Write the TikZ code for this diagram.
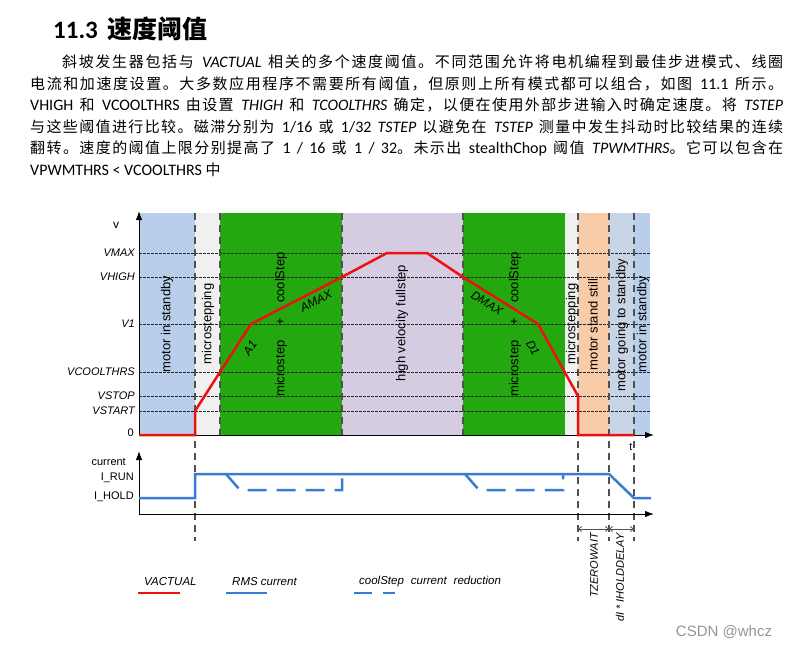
\documentclass[tikz,border=0pt]{standalone}
\usepackage{fontspec}
\setmainfont{Carlito}
\newfontfamily\cjk{Noto Sans CJK SC}
\newfontfamily\arial{Liberation Sans}
\usetikzlibrary{arrows.meta}
\definecolor{sbblue}{RGB}{184,206,234}
\definecolor{mgray}{RGB}{240,240,240}
\definecolor{cgreen}{RGB}{36,168,16}
\definecolor{lav}{RGB}{214,204,226}
\definecolor{orng}{RGB}{248,204,168}
\definecolor{bgray}{RGB}{200,213,230}
\definecolor{vred}{RGB}{238,16,16}
\definecolor{rmsblue}{RGB}{58,124,212}
\definecolor{dashgray}{RGB}{80,80,80}
\definecolor{wmgray}{RGB}{150,150,150}
\makeatletter
\def\C#1{{\cjk\fontsize{15}{18}\selectfont\C@loop#1\C@stop}}
\def\C@stop{\C@stop}
\def\C@loop#1{\ifx#1\C@stop\else#1\hskip0pt plus 1pt\relax\expandafter\C@loop\fi}
\makeatother
\begin{document}
\begin{tikzpicture}[x=1pt,y=-1pt,
  para/.style={anchor=base west,inner sep=0pt,font=\fontsize{16}{18}\selectfont},
  lbl/.style={font=\arial\fontsize{11}{13}\selectfont\itshape,anchor=east,inner sep=0pt},
  ulbl/.style={font=\arial\fontsize{11}{13}\selectfont,inner sep=0pt},
  bandtext/.style={font=\arial\fontsize{13}{15}\selectfont,rotate=90,inner sep=0pt},
  slopetext/.style={font=\arial\fontsize{12}{14}\selectfont\itshape,inner sep=0pt},
  legtext/.style={font=\arial\fontsize{11.5}{13}\selectfont\itshape,anchor=west,inner sep=0pt},
  vdash/.style={draw=dashgray,line width=1.2pt,dash pattern=on 7pt off 5pt},
  hdot/.style={draw=black!85,line width=0.7pt,dash pattern=on 2.5pt off 1.5pt},
  axis/.style={draw=black,line width=1pt,-{Latex[length=9pt,width=6.5pt]}},
  vel/.style={draw=vred,line width=2.5pt},
  rms/.style={draw=rmsblue,line width=2.5pt},
  cool/.style={draw=rmsblue,line width=2.5pt,dash pattern=on 19pt off 10pt},
  dim/.style={draw=dashgray,line width=0.8pt,{Straight Barb[length=3pt,width=5pt]}-{Straight Barb[length=3pt,width=5pt]}}
]
\path[use as bounding box] (0,0) rectangle (799,649);
\fill[white] (0,0) rectangle (799,649);

% ---------- heading and paragraph ----------
\node[anchor=base west,inner sep=0pt,font=\fontsize{25}{28}\selectfont\bfseries] (title) at (53,38)
  {11.3\hspace{10pt}{\cjk 速度阈值}};
\node[para] (l1) at (62,67.5) {\hbox to 721pt{\C{斜坡发生器包括与} \textit{VACTUAL} \C{相关的多个速度阈值。不同范围允许将电机编程到最佳步进模式、线圈}\unskip}};
\node[para] (l2) at (30,89.1) {\hbox to 753pt{\C{电流和加速度设置。大多数应用程序不需要所有阈值，但原则上所有模式都可以组合，如图} 11.1 \C{所示。}\unskip}};
\node[para] (l3) at (30,110.7) {\hbox to 753pt{VHIGH \C{和} VCOOLTHRS \C{由设置} \textit{THIGH} \C{和} \textit{TCOOLTHRS} \C{确定，以便在使用外部步进输入时确定速度。将} \textit{TSTEP}}};
\node[para] (l4) at (30,132.3) {\hbox to 753pt{\C{与这些阈值进行比较。磁滞分别为} 1/16 \C{或} 1/32 \textit{TSTEP} \C{以避免在} \textit{TSTEP} \C{测量中发生抖动时比较结果的连续}\unskip}};
\node[para] (l5) at (30,153.9) {\hbox to 753pt{\C{翻转。速度的阈值上限分别提高了} 1 / 16 \C{或} 1 / 32\C{。未示出} stealthChop \C{阈值} \textit{TPWMTHRS}\C{。它可以包含在}\unskip}};
\node[para] (l6) at (30,175.5) {VPWMTHRS < VCOOLTHRS {\cjk\fontsize{15}{18}\selectfont 中}};

% ---------- bands ----------
\fill[sbblue] (139,213) rectangle (195,435);
\fill[mgray]  (195,213) rectangle (220,435);
\fill[cgreen] (220,213) rectangle (342,435);
\fill[lav]    (342,213) rectangle (463,435);
\fill[cgreen] (463,213) rectangle (565,435);
\fill[mgray]  (565,213) rectangle (578,435);
\fill[orng]   (578,213) rectangle (609,435);
\fill[bgray]  (609,213) rectangle (634,435);
\fill[sbblue] (634,213) rectangle (650,435);

% ---------- threshold lines and labels ----------
\node[ulbl,font=\arial\fontsize{12}{14}\selectfont] (vlab) at (116,225) {v};
\foreach \yy/\tt/\nn in {253/VMAX/vmax,277/VHIGH/vhigh,324/V1/vone,372/VCOOLTHRS/vcool,396/VSTOP/vstop,411/VSTART/vstart}{
  \node[lbl] (\nn) at (135,\yy) {\tt};
  \draw[hdot] (139,\yy) -- (650,\yy);
}
\node[ulbl,anchor=east] (zero) at (134,433) {0};

% ---------- vertical dashed lines ----------
\foreach \xx in {220,342,463}{ \draw[vdash] (\xx,213) -- (\xx,435); }
\foreach \xx in {195,578,609,634}{ \draw[vdash] (\xx,213) -- (\xx,541); }

% ---------- band texts ----------
\node[bandtext] (b1) at (167,324) {motor in standby};
\node[bandtext] (b2) at (208,324) {microstepping};
\node[bandtext] (b3) at (281,324.5) {microstep\hspace{15pt}+\hspace{15pt}coolStep};
\node[bandtext] (b4) at (402,323) {high velocity fullstep};
\node[bandtext] (b5) at (515,324.5) {microstep\hspace{15pt}+\hspace{15pt}coolStep};
\node[bandtext] (b6) at (572,324) {microstepping};
\node[bandtext] (b7) at (593,324.5) {motor stand still};
\node[bandtext] (b8) at (622,325) {motor going to standby};
\node[bandtext] (b9) at (643,324) {motor in standby};

% ---------- upper axes ----------
\coordinate (o1) at (139,435);
\draw[axis] (o1) -- (139,211);
\draw[axis] (o1) -- (654,435);

% ---------- velocity curve ----------
\draw[vel] (139,435) -- (195,435) -- (195,411) -- (220,372) -- (251,324) -- (342,277)
  -- (387,253) -- (427,253) -- (463,277) -- (538,324) -- (578,396) -- (578,435) -- (634,435);
\node[slopetext,rotate=57] (a1) at (250,348) {A1};
\node[slopetext,rotate=27.6] (amax) at (316,301) {AMAX};
\node[slopetext,rotate=-32.6] (dmax) at (487,303) {DMAX};
\node[slopetext,rotate=-61] (d1) at (533,348) {D1};
\node[ulbl] (tlab) at (631,447) {t};

% ---------- lower chart ----------
\coordinate (o2) at (139,514);
\draw[axis] (o2) -- (139,451);
\draw[axis] (o2) -- (654,514);
\node[ulbl,anchor=east] (curlab) at (126,462) {current};
\node[ulbl,anchor=east] (irun) at (134,478) {I\_RUN};
\node[ulbl,anchor=east] (ihold) at (134,497) {I\_HOLD};
\draw[rms] (139,498) -- (195,498) -- (195,474) -- (609,474) -- (634,498) -- (651,498);
\draw[cool] (226,474) -- (240,490) -- (342,490) -- (342,474);
\draw[cool] (465,474) -- (479,490) -- (563,490) -- (563,474);

% ---------- timing dimensions ----------
\coordinate (d0) at (578,529);
\coordinate (dm) at (609,529);
\coordinate (d2) at (634,529);
\draw[dim] (d0) -- (dm);
\draw[dim] (dm) -- (d2);
\node[font=\arial\fontsize{11}{13}\selectfont\itshape,rotate=90,anchor=east,inner sep=0pt] (tzw) at (594,533) {TZEROWAIT};
\node[font=\arial\fontsize{11}{13}\selectfont\itshape,rotate=90,anchor=east,inner sep=0pt] (ihd) at (620,533) {dI * IHOLDDELAY};

% ---------- legend ----------
\node[legtext] (lgv) at (144,582) {VACTUAL};
\draw[vel,line width=2.2pt] (138,593) -- (180,593);
\node[legtext] (lgr) at (232,582) {RMS current};
\draw[rms,line width=2.2pt] (226,593) -- (267,593);
\node[legtext] (lgc) at (359,582) {coolStep\hspace{7pt}current\hspace{7pt}reduction};
\draw[rms,line width=2.2pt] (354,593) -- (372,593);
\draw[rms,line width=2.2pt] (383,593) -- (395,593);

% ---------- watermark ----------
\node[font=\arial\fontsize{15}{17}\selectfont,text=wmgray,inner sep=0pt] (wm) at (724,632) {CSDN @whcz};
\end{tikzpicture}
\end{document}
